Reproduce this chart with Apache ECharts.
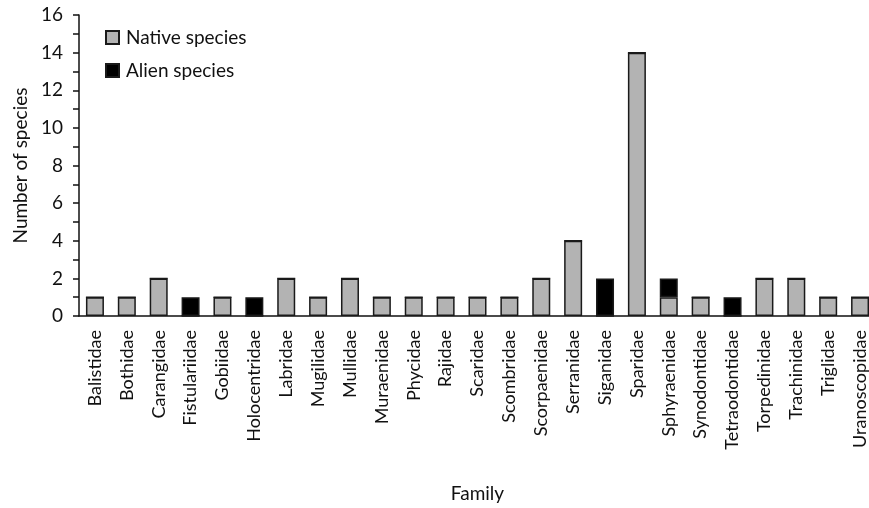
<!DOCTYPE html>
<html><head><meta charset="utf-8">
<script src="https://cdn.jsdelivr.net/npm/echarts@6/dist/echarts.min.js"></script>
<style>html,body{margin:0;padding:0;background:#fff}#c{width:869px;height:508px}</style>
</head><body><div id="c"></div>
<script>
const families = ["Balistidae","Bothidae","Carangidae","Fistulariidae","Gobiidae","Holocentridae","Labridae","Mugilidae","Mullidae","Muraenidae","Phycidae","Rajidae","Scaridae","Scombridae","Scorpaenidae","Serranidae","Siganidae","Sparidae","Sphyraenidae","Synodontidae","Tetraodontidae","Torpedinidae","Trachinidae","Triglidae","Uranoscopidae"];
const nativeSpecies = [1,1,2,0,1,0,2,1,2,1,1,1,1,1,2,4,0,14,1,1,0,2,2,1,1];
const alienSpecies  = [0,0,0,1,0,1,0,0,0,0,0,0,0,0,0,0,2,0,1,0,1,0,0,0,0];
const F = 'Lato, "Open Sans", sans-serif';
const chart = echarts.init(document.getElementById('c'));
chart.setOption({
  animation:false,
  backgroundColor:'#fff',
  grid:{left:79,top:15,height:301,width:797,containLabel:false,outerBoundsMode:'none'},
  legend:{
    orient:'vertical', left:100, top:23, itemGap:14,
    itemWidth:13, itemHeight:13, icon:'rect',
    textStyle:{fontFamily:F,fontSize:19,color:'#111',padding:[0,0,0,2]},
    data:['Native species','Alien species']
  },
  xAxis:{
    type:'category', data:families,
    name:'Family', nameLocation:'middle', nameGap:168,
    nameTextStyle:{fontFamily:F,fontSize:19,color:'#111'},
    axisLine:{lineStyle:{color:'#111',width:1.5}},
    axisTick:{alignWithLabel:false,length:6,lineStyle:{color:'#111',width:1.5}},
    axisLabel:{rotate:90,interval:0,fontFamily:F,fontSize:18,color:'#111',margin:14}
  },
  yAxis:{
    type:'value', min:0, max:16, interval:2,
    name:'Number of species', nameLocation:'middle', nameGap:48,
    nameTextStyle:{fontFamily:F,fontSize:19,color:'#111'},
    axisLine:{show:true,lineStyle:{color:'#111',width:1.5}},
    axisTick:{show:true,inside:false,length:6,lineStyle:{color:'#111',width:1.5}},
    minorTick:{show:true,splitNumber:2,length:6,lineStyle:{color:'#111',width:1.5}},
    splitLine:{show:false},
    axisLabel:{fontFamily:F,fontSize:19,color:'#111',margin:16}
  },
  series:[
    {name:'Native species',type:'bar',stack:'s',data:nativeSpecies,barWidth:18,
     itemStyle:{color:'#b3b3b3',borderColor:'#1a1a1a',borderWidth:1.5}},
    {name:'Alien species',type:'bar',stack:'s',data:alienSpecies,barWidth:18,
     itemStyle:{color:'#000',borderColor:'#1a1a1a',borderWidth:1.5}}
  ]
});
</script></body></html>
